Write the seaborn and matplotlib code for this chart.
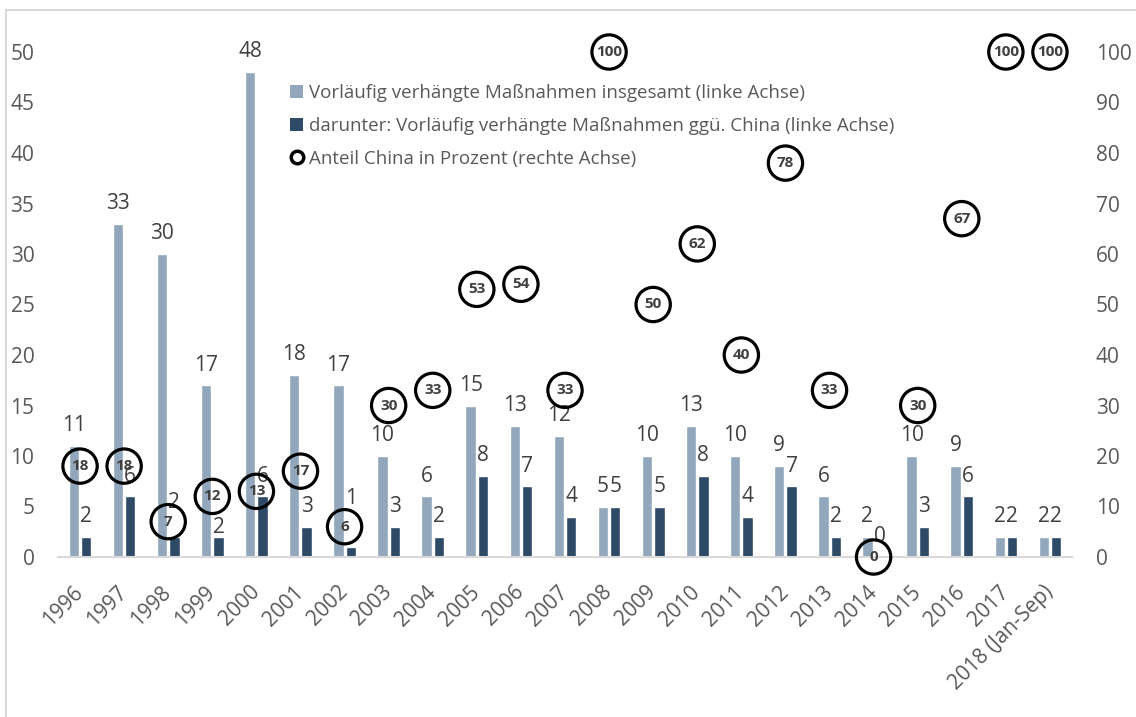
import matplotlib
matplotlib.use("Agg")
import matplotlib.pyplot as plt
from matplotlib.patches import Patch, Rectangle
from matplotlib.lines import Line2D
import seaborn as sns
import pandas as pd
import numpy as np

years = ["1996", "1997", "1998", "1999", "2000", "2001", "2002", "2003", "2004",
         "2005", "2006", "2007", "2008", "2009", "2010", "2011", "2012", "2013",
         "2014", "2015", "2016", "2017", "2018 (Jan-Sep)"]
total = [11, 33, 30, 17, 48, 18, 17, 10, 6, 15, 13, 12, 5, 10, 13, 10, 9, 6, 2, 10, 9, 2, 2]
china = [2, 6, 2, 2, 6, 3, 1, 3, 2, 8, 7, 4, 5, 5, 8, 4, 7, 2, 0, 3, 6, 2, 2]
share = [18, 18, 7, 12, 13, 17, 6, 30, 33, 53, 54, 33, 100, 50, 62, 40, 78, 33, 0, 30, 67, 100, 100]

lab_total = "Vorläufig verhängte Maßnahmen insgesamt (linke Achse)"
lab_china = "darunter: Vorläufig verhängte Maßnahmen ggü. China (linke Achse)"
lab_share = "Anteil China in Prozent (rechte Achse)"

LIGHT = "#92A7BC"
DARK = "#2E4A67"
GRAY = "#595959"
TXT = "#404040"

sns.set_style("white")
plt.rcParams["font.family"] = ["Open Sans", "DejaVu Sans"]

df = pd.DataFrame({
    "year": years * 2,
    "value": total + china,
    "series": [lab_total] * len(years) + [lab_china] * len(years),
})

W, H = 1136, 717
fig = plt.figure(figsize=(W / 100, H / 100), dpi=100)
ax = fig.add_axes([58 / W, 1 - 557 / H, (1072 - 58) / W, (557 - 52) / H])

sns.barplot(data=df, x="year", y="value", hue="series", order=years,
            hue_order=[lab_total, lab_china], palette=[LIGHT, DARK],
            width=0.56, gap=0.16, ax=ax, legend=False, saturation=1)

ax.set_ylim(0, 50)
ax.set_xlim(-0.5, len(years) - 0.5)
ax.set_yticks(range(0, 51, 5))
ax.set_xlabel("")
ax.set_ylabel("")
for s in ["top", "right", "left"]:
    ax.spines[s].set_visible(False)
ax.spines["bottom"].set_color("#D9D9D9")
ax.spines["bottom"].set_linewidth(1.5)
ax.tick_params(axis="y", length=0, pad=17, labelsize=15, labelcolor=GRAY)
ax.tick_params(axis="x", length=0, pad=23, labelsize=15, labelcolor=GRAY)
for t in ax.get_xticklabels():
    t.set_rotation(45)
    t.set_ha("right")
    t.set_va("center")
    t.set_rotation_mode("anchor")

# extra vertical offsets (points) for a few China labels, as in the original
extra = {2: 10, 3: -8, 6: 20}
for ci, cont in enumerate(ax.containers):
    for i, p in enumerate(cont.patches):
        off = 7 + (extra.get(i, 0) if ci == 1 else 0)
        ax.annotate(f"{p.get_height():.0f}", (p.get_x() + p.get_width() / 2, p.get_height()),
                    xytext=(0, off), textcoords="offset points", ha="center", va="bottom",
                    fontsize=15, color=TXT, annotation_clip=False)

ax2 = ax.twinx()
sdf = pd.DataFrame({"x": np.arange(len(years)), "share": share})
sns.scatterplot(data=sdf, x="x", y="share", ax=ax2, s=610, facecolor="none",
                edgecolor="black", linewidth=2.3, zorder=5, clip_on=False, legend=False)
ax2.set_ylim(0, 100)
ax2.set_yticks(range(0, 101, 10))
ax2.set_ylabel("")
ax2.set_xlabel("")
for s in ["top", "right", "left", "bottom"]:
    ax2.spines[s].set_visible(False)
ax2.tick_params(axis="y", length=0, pad=17, labelsize=15, labelcolor=GRAY)
for xi, v in zip(sdf["x"], sdf["share"]):
    ax2.text(xi, v, str(v), ha="center", va="center", fontsize=11,
             fontweight="bold", color=TXT, zorder=6, clip_on=False)

handles = [
    Patch(facecolor=LIGHT, edgecolor="none"),
    Patch(facecolor=DARK, edgecolor="none"),
    Line2D([], [], marker="o", linestyle="none", markerfacecolor="white",
           markeredgecolor="black", markeredgewidth=2.5, markersize=9),
]
leg = fig.legend(handles, [lab_total, lab_china, lab_share], loc="upper left",
                 bbox_to_anchor=(290 / W, 1 - 84 / H), frameon=False,
                 fontsize=13.5, handlelength=0.7, handleheight=0.7,
                 handletextpad=0.3, labelspacing=0.8, borderpad=0,
                 borderaxespad=0)
for t in leg.get_texts():
    t.set_color(GRAY)

fig.patches.append(Rectangle((6 / W, -0.1), 1.2, 1.1 - 10 / H, transform=fig.transFigure,
                             fill=False, edgecolor="#D9D9D9", linewidth=1.5))

fig.savefig("out.png", dpi=100)
